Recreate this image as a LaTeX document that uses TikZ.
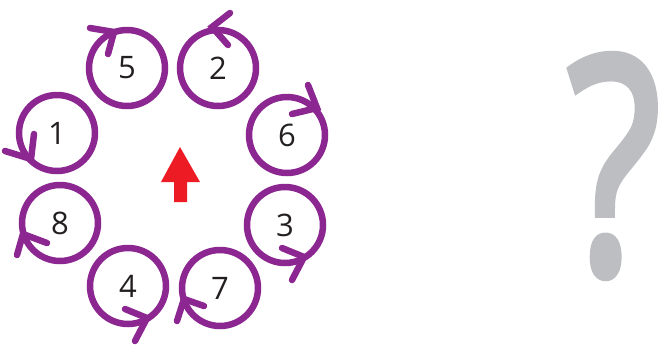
\documentclass[tikz,border=0pt]{standalone}
\usepackage{fontspec}
\setmainfont{Open Sans}
\newfontfamily\qfont[FakeBold=3]{Open Sans}
\definecolor{ringpurple}{RGB}{140,38,145}
\definecolor{arrowred}{RGB}{237,28,36}
\definecolor{qgray}{RGB}{189,190,193}
\definecolor{digitcol}{RGB}{35,31,32}
\tikzset{
  ring/.style={circle, draw=ringpurple, line width=6.5pt, minimum size=76pt, inner sep=0pt,
    text=digitcol, font=\fontsize{31}{31}\selectfont},
  chev/.style={draw=ringpurple, line width=6.5pt, line cap=round, line join=miter},
}
\begin{document}
\begin{tikzpicture}[x=1pt,y=-1pt]
\useasboundingbox (0,0) rectangle (669,349);
\node[ring] (n5) at (127,68) {5};
\node[ring] (n2) at (218,68) {2};
\node[ring] (n1) at (57,133) {1};
\node[ring] (n6) at (287,135) {6};
\node[ring] (n8) at (60,223) {8};
\node[ring] (n3) at (285,225) {3};
\node[ring] (n4) at (128,286) {4};
\node[ring] (n7) at (220,288) {7};
% chevrons
\draw[chev] (90,28) -- (114,32) -- (108,54);
\draw[chev] (230,13) -- (212,27) -- (228,45);
\draw[chev] (5,151) -- (31,159) -- (34,134);
\draw[chev] (308,85) -- (317,108) -- (292,114);
\draw[chev] (282,248) -- (304,257) -- (292,280);
\draw[chev] (47,243) -- (23,234) -- (17,255);
\draw[chev] (125,309) -- (147,318) -- (135,341);
\draw[chev] (204,306) -- (184,299) -- (177,321);
% red arrow
\fill[arrowred] (180,147) -- (200,182) -- (187,182) -- (187,202) -- (174,202) -- (174,182) -- (161,182) -- cycle;
% question mark
\node[text=qgray, font=\qfont\fontsize{300}{300}\selectfont, inner sep=0pt, xscale=0.72] (q) at (614,166) {?};
\end{tikzpicture}
\end{document}
